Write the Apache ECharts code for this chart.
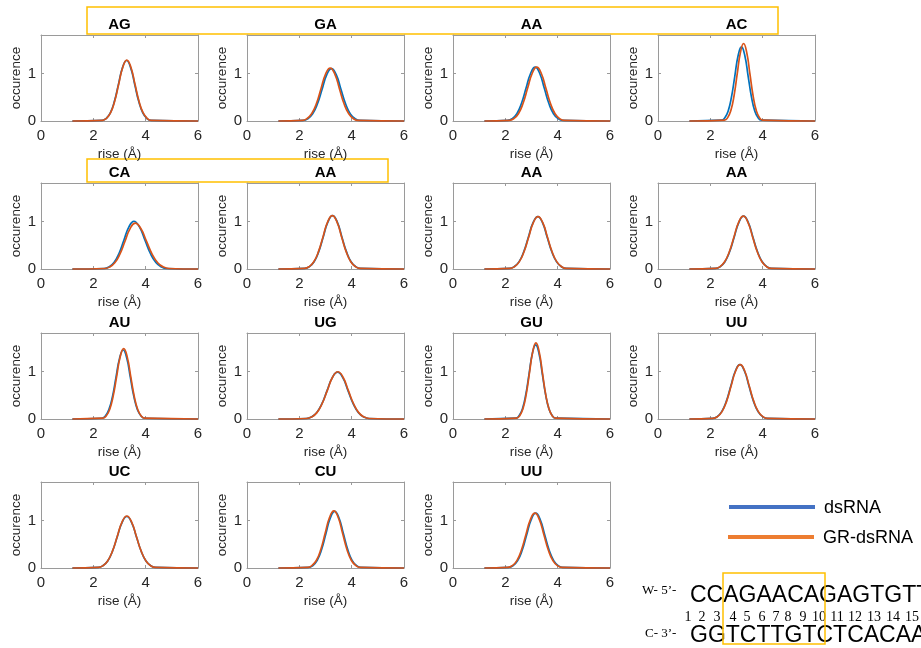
<!DOCTYPE html>
<html><head><meta charset="utf-8">
<script src="https://cdn.jsdelivr.net/npm/echarts@6/dist/echarts.min.js"></script>
<style>html,body{margin:0;padding:0;background:#fff}#c{width:921px;height:648px}</style>
</head><body><div id="c"></div>
<script>
// ---- data ----
const panelTitles = ['AG','GA','AA','AC','CA','AA','AA','AA','AU','UG','GU','UU','UC','CU','UU'];
const seriesNames = ['dsRNA','GR-dsRNA'];
const xTickValues = [0, 2, 4, 6];
const yTickValues = [0, 1];
const xAxisTitle = 'rise (Å)';
const yAxisTitle = 'occurence';

const AG_ds  = [[1.2,0],[2.34,0.014],[2.495,0.056],[2.65,0.173],[2.805,0.416],[2.96,0.776],[3.115,1.13],[3.27,1.28],[3.425,1.13],[3.58,0.776],[3.735,0.416],[3.89,0.173],[4.045,0.056],[4.2,0.014],[6,0]];
const AG_gr  = [[1.2,0],[2.35,0.014],[2.505,0.057],[2.66,0.175],[2.815,0.419],[2.97,0.782],[3.125,1.138],[3.28,1.29],[3.435,1.138],[3.59,0.782],[3.745,0.419],[3.9,0.175],[4.055,0.057],[4.21,0.014],[6,0]];
const GA_ds  = [[1.2,0],[2.15,0.012],[2.33,0.049],[2.51,0.15],[2.69,0.36],[2.87,0.673],[3.05,0.98],[3.23,1.11],[3.41,0.98],[3.59,0.673],[3.77,0.36],[3.95,0.15],[4.13,0.049],[4.31,0.012],[6,0]];
const GA_gr  = [[1.2,0],[2.115,0.012],[2.29,0.049],[2.47,0.152],[2.65,0.364],[2.825,0.679],[3.0,0.988],[3.18,1.12],[3.36,0.988],[3.535,0.679],[3.71,0.364],[3.89,0.152],[4.07,0.049],[4.245,0.012],[6,0]];
const AA1_ds = [[1.2,0],[2.09,0.013],[2.265,0.05],[2.44,0.154],[2.615,0.37],[2.79,0.691],[2.965,1.006],[3.14,1.14],[3.315,1.006],[3.49,0.691],[3.665,0.37],[3.84,0.154],[4.015,0.05],[4.19,0.013],[6,0]];
const AA1_gr = [[1.2,0],[2.15,0.013],[2.325,0.05],[2.5,0.154],[2.675,0.37],[2.85,0.691],[3.025,1.006],[3.2,1.14],[3.375,1.006],[3.55,0.691],[3.725,0.37],[3.9,0.154],[4.075,0.05],[4.25,0.013],[6,0]];
const AC_ds  = [[1.2,0],[2.428,0.017],[2.555,0.069],[2.682,0.212],[2.809,0.51],[2.936,0.952],[3.063,1.386],[3.19,1.57],[3.317,1.386],[3.444,0.952],[3.571,0.51],[3.698,0.212],[3.825,0.069],[3.952,0.017],[6,0]];
const AC_gr  = [[1.2,0],[2.541,0.018],[2.663,0.072],[2.784,0.222],[2.906,0.533],[3.027,0.995],[3.149,1.447],[3.27,1.64],[3.392,1.447],[3.513,0.995],[3.635,0.533],[3.756,0.222],[3.878,0.072],[3.999,0.018],[6,0]];
const CA_ds  = [[1.2,0],[2.41,0.011],[2.6,0.044],[2.79,0.137],[2.98,0.328],[3.17,0.613],[3.36,0.891],[3.55,1.01],[3.76,0.891],[3.97,0.613],[4.18,0.328],[4.39,0.137],[4.6,0.044],[4.81,0.011],[6,0]];
const CA_gr  = [[1.2,0],[2.43,0.011],[2.625,0.043],[2.82,0.131],[3.015,0.315],[3.21,0.588],[3.405,0.856],[3.6,0.97],[3.815,0.856],[4.03,0.588],[4.245,0.315],[4.46,0.131],[4.675,0.043],[4.89,0.011],[6,0]];
const AA2_ds = [[1.2,0],[2.211,0.013],[2.388,0.05],[2.564,0.153],[2.741,0.367],[2.917,0.685],[3.094,0.997],[3.27,1.13],[3.447,0.997],[3.623,0.685],[3.8,0.367],[3.976,0.153],[4.153,0.05],[4.329,0.013],[6,0]];
const AA2_gr = [[1.2,0],[2.201,0.013],[2.378,0.05],[2.554,0.153],[2.731,0.367],[2.907,0.685],[3.084,0.997],[3.26,1.13],[3.437,0.997],[3.613,0.685],[3.79,0.367],[3.966,0.153],[4.143,0.05],[4.319,0.013],[6,0]];
const AA3_ds = [[1.2,0],[2.16,0.012],[2.34,0.049],[2.52,0.15],[2.7,0.36],[2.88,0.673],[3.06,0.98],[3.24,1.11],[3.42,0.98],[3.6,0.673],[3.78,0.36],[3.96,0.15],[4.14,0.049],[4.32,0.012],[6,0]];
const AA3_gr = [[1.2,0],[2.17,0.012],[2.35,0.049],[2.53,0.15],[2.71,0.36],[2.89,0.673],[3.07,0.98],[3.25,1.11],[3.43,0.98],[3.61,0.673],[3.79,0.36],[3.97,0.15],[4.15,0.049],[4.33,0.012],[6,0]];
const AA4_ds = [[1.2,0],[2.202,0.012],[2.38,0.049],[2.558,0.152],[2.736,0.364],[2.914,0.679],[3.092,0.988],[3.27,1.12],[3.448,0.988],[3.626,0.679],[3.804,0.364],[3.982,0.152],[4.16,0.049],[4.338,0.012],[6,0]];
const AA4_gr = [[1.2,0],[2.192,0.012],[2.37,0.049],[2.548,0.152],[2.726,0.364],[2.904,0.679],[3.082,0.988],[3.26,1.12],[3.438,0.988],[3.616,0.679],[3.794,0.364],[3.972,0.152],[4.15,0.049],[4.328,0.012],[6,0]];
const AU_ds  = [[1.2,0],[2.321,0.016],[2.458,0.064],[2.594,0.198],[2.731,0.474],[2.867,0.885],[3.004,1.288],[3.14,1.46],[3.277,1.288],[3.413,0.885],[3.55,0.474],[3.686,0.198],[3.823,0.064],[3.959,0.016],[6,0]];
const AU_gr  = [[1.2,0],[2.356,0.017],[2.49,0.065],[2.624,0.202],[2.758,0.484],[2.892,0.904],[3.026,1.315],[3.16,1.49],[3.294,1.315],[3.428,0.904],[3.562,0.484],[3.696,0.202],[3.83,0.065],[3.964,0.017],[6,0]];
const UG_ds  = [[1.2,0],[2.26,0.011],[2.46,0.043],[2.66,0.134],[2.86,0.321],[3.06,0.6],[3.26,0.874],[3.46,0.99],[3.66,0.874],[3.86,0.6],[4.06,0.321],[4.26,0.134],[4.46,0.043],[4.66,0.011],[6,0]];
const UG_gr  = [[1.2,0],[2.27,0.011],[2.47,0.044],[2.67,0.135],[2.87,0.325],[3.07,0.607],[3.27,0.883],[3.47,1.0],[3.67,0.883],[3.87,0.607],[4.07,0.325],[4.27,0.135],[4.47,0.044],[4.67,0.011],[6,0]];
const GU_ds  = [[1.2,0],[2.398,0.017],[2.525,0.069],[2.652,0.212],[2.779,0.51],[2.906,0.952],[3.033,1.386],[3.16,1.57],[3.287,1.386],[3.414,0.952],[3.541,0.51],[3.668,0.212],[3.795,0.069],[3.922,0.017],[6,0]];
const GU_gr  = [[1.2,0],[2.426,0.018],[2.55,0.071],[2.674,0.218],[2.798,0.523],[2.922,0.976],[3.046,1.421],[3.17,1.61],[3.294,1.421],[3.418,0.976],[3.542,0.523],[3.666,0.218],[3.79,0.071],[3.914,0.018],[6,0]];
const UU1_ds = [[1.2,0],[2.089,0.013],[2.263,0.05],[2.436,0.156],[2.61,0.373],[2.783,0.697],[2.957,1.015],[3.13,1.15],[3.304,1.015],[3.477,0.697],[3.651,0.373],[3.824,0.156],[3.998,0.05],[4.171,0.013],[6,0]];
const UU1_gr = [[1.2,0],[2.099,0.013],[2.273,0.05],[2.446,0.156],[2.62,0.373],[2.793,0.697],[2.967,1.015],[3.14,1.15],[3.314,1.015],[3.487,0.697],[3.661,0.373],[3.834,0.156],[4.008,0.05],[4.181,0.013],[6,0]];
const UC_ds  = [[1.2,0],[2.182,0.012],[2.365,0.048],[2.548,0.147],[2.731,0.354],[2.914,0.661],[3.097,0.962],[3.28,1.09],[3.463,0.962],[3.646,0.661],[3.829,0.354],[4.012,0.147],[4.195,0.048],[4.378,0.012],[6,0]];
const UC_gr  = [[1.2,0],[2.182,0.012],[2.365,0.048],[2.548,0.149],[2.731,0.357],[2.914,0.667],[3.097,0.971],[3.28,1.1],[3.463,0.971],[3.646,0.667],[3.829,0.357],[4.012,0.149],[4.195,0.048],[4.378,0.012],[6,0]];
const CU_ds  = [[1.2,0],[2.351,0.013],[2.518,0.053],[2.684,0.162],[2.851,0.39],[3.017,0.728],[3.184,1.059],[3.35,1.2],[3.517,1.059],[3.683,0.728],[3.85,0.39],[4.016,0.162],[4.183,0.053],[4.349,0.013],[6,0]];
const CU_gr  = [[1.2,0],[2.321,0.013],[2.488,0.054],[2.654,0.164],[2.821,0.393],[2.987,0.734],[3.154,1.068],[3.32,1.21],[3.487,1.068],[3.653,0.734],[3.82,0.393],[3.986,0.164],[4.153,0.054],[4.319,0.013],[6,0]];
const UU2_ds = [[1.2,0],[2.128,0.013],[2.3,0.051],[2.472,0.157],[2.644,0.377],[2.816,0.704],[2.988,1.024],[3.16,1.16],[3.332,1.024],[3.504,0.704],[3.676,0.377],[3.848,0.157],[4.02,0.051],[4.192,0.013],[6,0]];
const UU2_gr = [[1.2,0],[2.098,0.013],[2.27,0.051],[2.442,0.157],[2.614,0.377],[2.786,0.704],[2.958,1.024],[3.13,1.16],[3.302,1.024],[3.474,0.704],[3.646,0.377],[3.818,0.157],[3.99,0.051],[4.162,0.013],[6,0]];

const dsCurves = [AG_ds, GA_ds, AA1_ds, AC_ds, CA_ds, AA2_ds, AA3_ds, AA4_ds, AU_ds, UG_ds, GU_ds, UU1_ds, UC_ds, CU_ds, UU2_ds];
const grCurves = [AG_gr, GA_gr, AA1_gr, AC_gr, CA_gr, AA2_gr, AA3_gr, AA4_gr, AU_gr, UG_gr, GU_gr, UU1_gr, UC_gr, CU_gr, UU2_gr];

const strandW = 'CCAGAACAGAGTGTT';
const strandC = 'GGTCTTGTCTCACAA';
const positions = ['1','2','3','4','5','6','7','8','9','10','11','12','13','14','15'];

// ---- layout ----
const colLeft = [41, 247, 453, 658];
const rowTop = [35, 183, 333, 482];
const PW = 157, PH = 86;
const YMAX = 1.82;
const BLUE = '#0072BD', ORANGE = '#D95319';
const AXC = '#9a9a9a', TXT = '#262626';
const FF = 'Liberation Sans, Arial, Helvetica, sans-serif';
const posLabelX = [688, 702, 717, 733, 747, 762, 776, 788, 803, 819, 837, 855, 874, 893, 912];

const grids = [], xAxes = [], yAxes = [], series = [], graphics = [];
const n = panelTitles.length;
for (let i = 0; i < n; i++) {
  const L = colLeft[i % 4], T = rowTop[Math.floor(i / 4)];
  grids.push({ left: L, top: T, width: PW, height: PH, containLabel: false });
  xAxes.push({
    gridIndex: i, type: 'value', min: 0, max: 6, interval: 2, position: 'bottom',
    axisLine: { show: true, onZero: false, lineStyle: { color: AXC, width: 1 } },
    axisTick: { show: true, inside: true, length: 3, lineStyle: { color: AXC } },
    axisLabel: { color: TXT, fontSize: 15, margin: 7, fontFamily: FF,
      formatter: v => xTickValues.includes(v) ? String(v) : '' },
    splitLine: { show: false },
    name: xAxisTitle, nameLocation: 'middle', nameGap: 26,
    nameTextStyle: { color: TXT, fontSize: 13.5, fontFamily: FF }
  });
  yAxes.push({
    gridIndex: i, type: 'value', min: 0, max: YMAX, interval: 1, position: 'left',
    axisLine: { show: true, onZero: false, lineStyle: { color: AXC, width: 1 } },
    axisTick: { show: true, inside: true, length: 3, lineStyle: { color: AXC } },
    axisLabel: { color: TXT, fontSize: 15, margin: 5, fontFamily: FF, showMaxLabel: false,
      formatter: v => yTickValues.includes(v) ? String(v) : '' },
    splitLine: { show: false },
    name: yAxisTitle, nameLocation: 'middle', nameGap: 17, nameRotate: 90,
    nameTextStyle: { color: TXT, fontSize: 13.5, fontFamily: FF }
  });
  graphics.push({
    type: 'text', x: L + PW / 2, y: T - 10,
    style: { text: panelTitles[i], fill: '#000', font: 'bold 15px ' + FF, textAlign: 'center', textVerticalAlign: 'middle' }
  });
}
// mirrored (top / right) axes for the box look
for (let i = 0; i < n; i++) {
  xAxes.push({
    gridIndex: i, type: 'value', min: 0, max: 6, interval: 2, position: 'top',
    axisLine: { show: true, onZero: false, lineStyle: { color: AXC, width: 1 } },
    axisTick: { show: true, inside: true, length: 3, lineStyle: { color: AXC } },
    axisLabel: { show: false }, splitLine: { show: false }
  });
  yAxes.push({
    gridIndex: i, type: 'value', min: 0, max: YMAX, interval: 1, position: 'right',
    axisLine: { show: true, onZero: false, lineStyle: { color: AXC, width: 1 } },
    axisTick: { show: true, inside: true, length: 3, lineStyle: { color: AXC } },
    axisLabel: { show: false }, splitLine: { show: false }
  });
}
for (let i = 0; i < n; i++) {
  series.push({
    name: seriesNames[0], type: 'line', xAxisIndex: i, yAxisIndex: i, data: dsCurves[i],
    smooth: true, showSymbol: false, clip: false, silent: true,
    lineStyle: { color: BLUE, width: 1.7 }
  });
  series.push({
    name: seriesNames[1], type: 'line', xAxisIndex: i, yAxisIndex: i, data: grCurves[i],
    smooth: true, showSymbol: false, clip: false, silent: true,
    lineStyle: { color: ORANGE, width: 1.7 }
  });
}

// highlight boxes
const Y = '#FFC000';
graphics.push({ type: 'rect', shape: { x: 87, y: 7, width: 691, height: 27 }, style: { fill: 'none', stroke: Y, lineWidth: 1.5 } });
graphics.push({ type: 'rect', shape: { x: 87, y: 159, width: 301, height: 23 }, style: { fill: 'none', stroke: Y, lineWidth: 1.5 } });

// legend
graphics.push({ type: 'line', shape: { x1: 729, y1: 507, x2: 815, y2: 507 }, style: { stroke: '#4472C4', lineWidth: 4 } });
graphics.push({ type: 'line', shape: { x1: 728, y1: 537, x2: 814, y2: 537 }, style: { stroke: '#ED7D31', lineWidth: 4 } });
graphics.push({ type: 'text', x: 824, y: 508, style: { text: seriesNames[0], fill: '#000', font: '18px ' + FF, textAlign: 'left', textVerticalAlign: 'middle' } });
graphics.push({ type: 'text', x: 823, y: 538, style: { text: seriesNames[1], fill: '#000', font: '18px ' + FF, textAlign: 'left', textVerticalAlign: 'middle' } });

// sequence
const SERIF = 'Liberation Serif, Times New Roman, serif';
graphics.push({ type: 'text', x: 642, y: 591, style: { text: 'W- 5’-', fill: '#000', font: '13px ' + SERIF, textAlign: 'left', textVerticalAlign: 'middle' } });
graphics.push({ type: 'text', x: 690, y: 596, style: { text: strandW, fill: '#000', font: '23px ' + FF, textAlign: 'left', textVerticalAlign: 'middle' } });
positions.forEach((p, k) => {
  graphics.push({ type: 'text', x: posLabelX[k], y: 617, style: { text: p, fill: '#000', font: '14px ' + SERIF, textAlign: 'center', textVerticalAlign: 'middle' } });
});
graphics.push({ type: 'text', x: 645, y: 634, style: { text: 'C- 3’-', fill: '#000', font: '13px ' + SERIF, textAlign: 'left', textVerticalAlign: 'middle' } });
graphics.push({ type: 'text', x: 690, y: 636, style: { text: strandC, fill: '#000', font: '23px ' + FF, textAlign: 'left', textVerticalAlign: 'middle' } });
graphics.push({ type: 'rect', shape: { x: 723, y: 573, width: 102, height: 71 }, style: { fill: 'none', stroke: Y, lineWidth: 1.5 }, z: 10 });

const chart = echarts.init(document.getElementById('c'), null, { renderer: 'canvas' });
chart.setOption({
  animation: false,
  backgroundColor: '#fff',
  grid: grids, xAxis: xAxes, yAxis: yAxes, series: series,
  graphic: graphics
});
</script>
</body></html>
